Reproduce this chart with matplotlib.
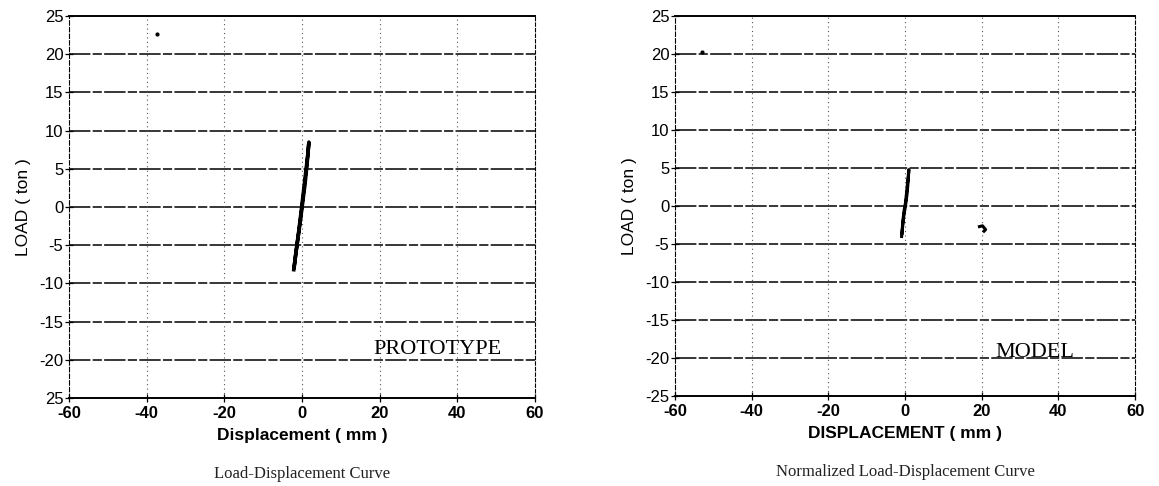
import numpy as np
import matplotlib.pyplot as plt

# data
disp_proto = [-2.1, -1.6, -1.0, -0.4, 0.2, 0.8, 1.3, 1.8, 1.5, 0.9, 0.3, -0.3, -0.9, -1.5, -2.0]
load_proto = [-8.2, -6.2, -4.0, -1.8, 0.6, 3.0, 5.5, 8.5, 6.8, 4.2, 1.6, -1.0, -3.5, -5.8, -7.9]

disp_model = [-0.9, -0.7, -0.5, -0.2, 0.1, 0.4, 0.7, 1.0, 0.8, 0.5, 0.1, -0.3, -0.6, -0.8]
load_model = [-4.0, -2.8, -1.6, -0.4, 0.4, 1.8, 3.3, 4.8, 3.2, 1.5, 0.0, -1.2, -2.5, -3.6]
disp_blob = [19.4, 20.2, 21.0, 20.6]
load_blob = [-2.7, -2.6, -3.1, -3.3]

specks_proto_x = [-37.3]
specks_proto_y = [22.6]
specks_model_x = [-53.0]
specks_model_y = [20.3]

x_ticks = [-60, -40, -20, 0, 20, 40, 60]
y_ticks = [-25, -20, -15, -10, -5, 0, 5, 10, 15, 20, 25]
x_labels = ['-60', '-40', '-20', '0', '20', '40', '60']
y_labels_left = ['25', '-20', '-15', '-10', '-5', '0', '5', '10', '15', '20', '25']
y_labels_right = ['-25', '-20', '-15', '-10', '-5', '0', '5', '10', '15', '20', '25']

plt.rcParams['font.family'] = ['Liberation Sans', 'DejaVu Sans']

fig = plt.figure(figsize=(11.59, 4.86), dpi=100)
ax1 = fig.add_axes([0.0595, 0.181, 0.402, 0.786])
ax2 = fig.add_axes([0.5824, 0.185, 0.397, 0.782])


def style_axes(ax, ylabels, xlabel, caption, tag, tag_xy):
    ax.set_xlim(-60, 60)
    ax.set_ylim(-25, 25)
    for y in y_ticks[1:-1]:
        ax.axhline(y, color='black', lw=1.1, ls=(0, (14, 1.5, 6, 1.5)), zorder=1)
    for x in x_ticks[1:-1]:
        ax.axvline(x, color='#555555', lw=0.8, ls=(0, (1, 3)), zorder=1)
    ax.spines['top'].set_linewidth(1.4)
    ax.spines['bottom'].set_linewidth(1.4)
    ax.spines['left'].set_linewidth(0.8)
    ax.spines['left'].set_linestyle((0, (4, 2)))
    ax.spines['right'].set_linewidth(0.8)
    ax.spines['right'].set_linestyle((0, (3, 2)))
    ax.set_xticks(x_ticks)
    ax.set_xticklabels(x_labels, fontsize=12, fontweight='bold')
    ax.set_yticks(y_ticks)
    ax.set_yticklabels(ylabels, fontsize=12)
    ax.tick_params(direction='inout', length=6, width=0.9, pad=1)
    ax.tick_params(axis='x', pad=3)
    ax.set_xlabel(xlabel, fontsize=12.5, fontweight='bold', labelpad=5)
    ax.set_ylabel('LOAD ( ton )', fontsize=12.5, labelpad=6)
    ax.text(0.5, -0.2, caption, transform=ax.transAxes, ha='center', va='center',
            fontsize=12, family='Liberation Serif', color='#222222')
    ax.text(tag_xy[0], tag_xy[1], tag, ha='left', va='center', fontsize=16,
            family='Liberation Serif', zorder=4)


style_axes(ax1, y_labels_left, 'Displacement ( mm )', 'Load-Displacement Curve',
           'PROTOTYPE', (18.5, -18.6))
style_axes(ax2, y_labels_right, 'DISPLACEMENT ( mm )', 'Normalized Load-Displacement Curve',
           'MODEL', (23.5, -19.3))

ax1.plot(disp_proto, load_proto, color='black', lw=2.6, zorder=3)
ax1.plot(specks_proto_x, specks_proto_y, 'o', color='black', ms=2, zorder=3)

ax2.plot(disp_model, load_model, color='black', lw=2.2, zorder=3)
ax2.plot(disp_blob, load_blob, color='black', lw=2.2, zorder=3)
ax2.plot(specks_model_x, specks_model_y, 'o', color='black', ms=2, zorder=3)

fig.savefig('out.png', dpi=100)
